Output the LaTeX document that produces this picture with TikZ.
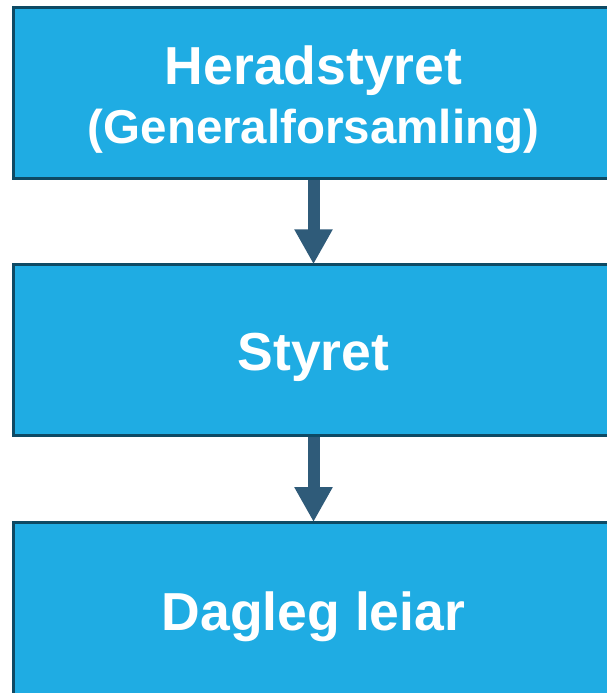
\documentclass[tikz,border=0pt]{standalone}
\usepackage{fontspec}
\setmainfont{Liberation Sans}
\usetikzlibrary{arrows.meta}
\definecolor{boxfill}{HTML}{1FACE3}
\definecolor{boxline}{HTML}{0E4A64}
\definecolor{arrowcol}{HTML}{2F5B79}

\begin{document}
\begin{tikzpicture}[x=1pt,y=1pt]
\tikzset{block/.style = {shape=rectangle,draw=boxline,fill=boxfill,line width=3pt,
	minimum width=600pt,minimum height=171pt,inner sep=0pt,
	align=center,text=white,font=\fontsize{53.5}{59}\selectfont\bfseries}}
\tikzset{flow/.style = {draw=arrowcol,line width=12pt,
	-{Triangle[width=36pt,length=35pt]},shorten >=-1pt}}
\useasboundingbox (0,0) rectangle (606,-693);
% boxes
\node[block,text height=110.5pt,text depth=10pt] (top) at  (313.5,-92.75)
	{Heradstyret\\{\fontsize{47.5}{59}\selectfont(Generalforsamling)}};
\node[block,text height=50pt,text depth=10.5pt] (mid) at  (313.5,-350.25) {Styret};
\node[block,minimum height=180pt,text height=45.5pt,text depth=10.5pt] (low) at  (313.5,-612.5) {Dagleg leiar};

% arrows
\draw[flow] (top) to (mid);
\draw[flow] (mid) to (low);
\end{tikzpicture}
\end{document}
